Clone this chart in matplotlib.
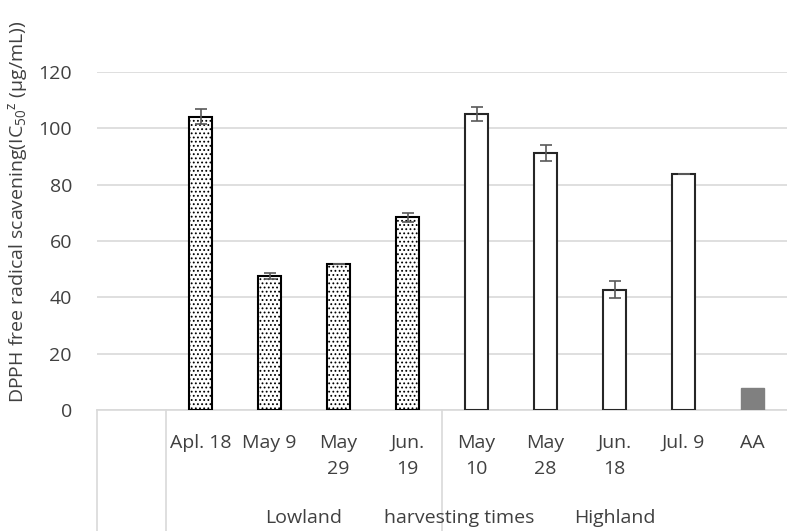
import matplotlib
matplotlib.use("Agg")
import matplotlib.pyplot as plt
from matplotlib.lines import Line2D

plt.rcParams['font.family'] = ['Open Sans', 'DejaVu Sans']
plt.rcParams['mathtext.fontset'] = 'custom'
plt.rcParams['mathtext.rm'] = 'Open Sans'
plt.rcParams['mathtext.it'] = 'Open Sans'
plt.rcParams['hatch.linewidth'] = 0.8

categories = ['', 'Apl. 18', 'May 9', 'May\n29', 'Jun.\n19', 'May\n10', 'May\n28', 'Jun.\n18', 'Jul. 9', 'AA']
lowland_vals = [104.1, 47.6, 51.8, 68.4]
lowland_err = [2.7, 1.2, 0.0, 1.5]
highland_vals = [105.1, 91.3, 42.7, 83.8]
highland_err = [2.6, 2.8, 3.0, 0.0]
aa_vals = [7.7]
yticks = [0, 20, 40, 60, 80, 100, 120]
group_labels = ['Lowland', 'harvesting times', 'Highland']

W, H = 787, 531
fig = plt.figure(figsize=(W / 100, H / 100), dpi=100)
left, right, y0, y120 = 97, 787, 410, 72
ax = fig.add_axes([left / W, (H - y0) / H, (right - left) / W, (y0 - y120) / H])

x = list(range(len(categories)))
bw = 0.32
fs = 14
tc = '#404040'
err_kw = dict(ecolor='#595959', elinewidth=1.2, capsize=4, capthick=1.2)

ax.bar(x[1:5], lowland_vals, width=bw, color='white', edgecolor='black', linewidth=1.5,
       hatch='....', yerr=lowland_err, error_kw=err_kw, zorder=3)
ax.bar(x[5:9], highland_vals, width=bw, color='white', edgecolor='#262626', linewidth=1.5,
       yerr=highland_err, error_kw=err_kw, zorder=3)
ax.bar(x[9:10], aa_vals, width=bw, color='#808080', edgecolor='#808080', linewidth=1, zorder=3)

ax.set_xlim(-0.5, len(categories) - 0.5)
ax.set_ylim(0, 120)
ax.set_yticks(yticks)
ax.grid(axis='y', color='#d9d9d9', linewidth=1.2, zorder=0)
for s in ax.spines.values():
    s.set_visible(False)
ax.tick_params(axis='y', length=0, pad=18, labelsize=fs, labelcolor=tc)
ax.set_xticks(x)
ax.set_xticklabels(categories, fontsize=fs, color=tc, linespacing=1.6)
ax.tick_params(axis='x', length=0, pad=17)

ax.set_ylabel('DPPH free radical scavening(IC$_{50}$$^{z}$ (μg/mL))', fontsize=fs, color=tc)
ax.yaxis.set_label_coords(-(left - 30) / (right - left), (y0 - 212) / (y0 - y120))

# category table lines
bottom_frac = -(H - y0) / (y0 - y120)
tr = ax.get_xaxis_transform()
ax.add_line(Line2D([-0.5, len(categories) - 0.5], [0, 0], transform=tr, color='#d9d9d9', lw=1.2, clip_on=False))
for xv in [-0.5, 0.5, 4.5]:
    ax.add_line(Line2D([xv, xv], [0, bottom_frac], transform=tr, color='#d9d9d9', lw=1.2, clip_on=False))

gy = -(518 - y0) / (y0 - y120)
for gx, lab in zip([2.5, 4.75, 7.0], group_labels):
    ax.text(gx, gy, lab, transform=tr, ha='center', va='center', fontsize=fs, color=tc)

fig.savefig('out.png', dpi=100)
